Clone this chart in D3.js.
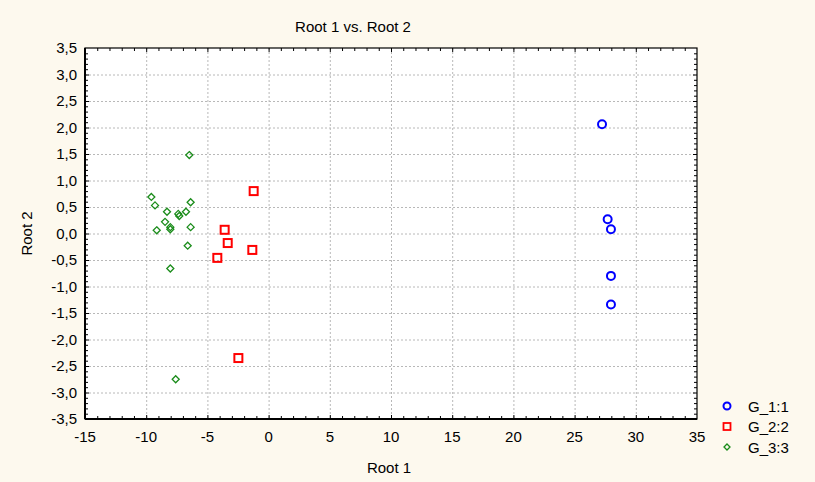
<!DOCTYPE html>
<html>
<head>
<meta charset="utf-8">
<script src="https://cdn.jsdelivr.net/npm/d3@7"></script>
<style>
  body { margin: 0; background: #fdf9ee; }
  text { font-family: "Liberation Sans", Arial, sans-serif; }
</style>
</head>
<body>
<div id="chart"></div>
<script>
// group 1 (blue circles)
var g1_x = [27.24, 27.70, 27.97, 27.97, 27.97];
var g1_y = [2.06, 0.27, 0.08, -0.80, -1.34];
// group 2 (red squares)
var g2_x = [-1.22, -3.59, -3.34, -1.33, -4.19, -2.47];
var g2_y = [0.80, 0.07, -0.18, -0.31, -0.46, -2.35];
// group 3 (green diamonds)
var g3_x = [-6.48, -9.58, -9.28, -6.37, -8.30, -7.38, -7.30, -6.75, -8.46, -8.03, -8.03, -9.14, -6.37, -6.61, -8.03, -7.59];
var g3_y = [1.48, 0.69, 0.53, 0.59, 0.41, 0.37, 0.33, 0.41, 0.22, 0.12, 0.08, 0.06, 0.12, -0.23, -0.66, -2.75];

var legendNames = ["G_1:1", "G_2:2", "G_3:3"];
var xTicks = [-15, -10, -5, 0, 5, 10, 15, 20, 25, 30, 35];
var yTicks = [3.5, 3.0, 2.5, 2.0, 1.5, 1.0, 0.5, 0.0, -0.5, -1.0, -1.5, -2.0, -2.5, -3.0, -3.5];

var width = 815, height = 482;
var margin = {top: 48, right: 118, bottom: 63, left: 85};

var svg = d3.select("#chart").append("svg")
	.attr("width", width)
	.attr("height", height);

svg.append("rect").attr("width", width).attr("height", height).attr("fill", "#fdf9ee");

var x = d3.scaleLinear().domain([-15, 35]).range([margin.left, width - margin.right]);
var y = d3.scaleLinear().domain([-3.5, 3.5]).range([height - margin.bottom, margin.top]);

var fmt = function(d){ return d3.format(".1f")(d).replace(".", ",").replace("−", "-"); };

//plot area
svg.append("rect")
	.attr("x", x(-15)).attr("y", y(3.5))
	.attr("width", x(35) - x(-15)).attr("height", y(-3.5) - y(3.5))
	.attr("fill", "#ffffff");

//grid
svg.append("g").selectAll("line").data(xTicks.slice(1, -1)).enter().append("line")
	.attr("x1", function(d){ return x(d) + 0.5; }).attr("x2", function(d){ return x(d) + 0.5; })
	.attr("y1", y(3.5)).attr("y2", y(-3.5))
	.attr("stroke", "#b8b8b8").attr("stroke-dasharray", "2,2");
svg.append("g").selectAll("line").data(yTicks.slice(1, -1)).enter().append("line")
	.attr("y1", function(d){ return y(d) + 0.5; }).attr("y2", function(d){ return y(d) + 0.5; })
	.attr("x1", x(-15)).attr("x2", x(35))
	.attr("stroke", "#b8b8b8").attr("stroke-dasharray", "2,2");

//minor ticks on all four sides, pointing inward
var xMinor = d3.range(-14, 35, 1);
var yMinor = d3.range(-34, 35, 1).map(function(d){ return d / 10; });
var ticks = svg.append("g").attr("stroke", "#000").attr("stroke-width", 1);
xMinor.forEach(function(d){
	var len = (d % 5 === 0) ? 4 : 3;
	ticks.append("line").attr("x1", x(d)+0.5).attr("x2", x(d)+0.5).attr("y1", y(-3.5)).attr("y2", y(-3.5) - len);
	ticks.append("line").attr("x1", x(d)+0.5).attr("x2", x(d)+0.5).attr("y1", y(3.5)).attr("y2", y(3.5) + len);
});
yMinor.forEach(function(d){
	var len = (Math.abs(Math.round(d*10)) % 5 === 0) ? 4 : 3;
	ticks.append("line").attr("y1", y(d)+0.5).attr("y2", y(d)+0.5).attr("x1", x(-15)).attr("x2", x(-15) + len);
	ticks.append("line").attr("y1", y(d)+0.5).attr("y2", y(d)+0.5).attr("x1", x(35)).attr("x2", x(35) - len);
});

//frame
svg.append("rect")
	.attr("x", x(-15)).attr("y", y(3.5))
	.attr("width", x(35) - x(-15)).attr("height", y(-3.5) - y(3.5))
	.attr("fill", "none").attr("stroke", "#000").attr("stroke-width", 1.2);
svg.append("line").attr("x1", x(-15)).attr("x2", x(-15)).attr("y1", y(3.5)).attr("y2", y(-3.5)).attr("stroke", "#000").attr("stroke-width", 2);
svg.append("line").attr("x1", x(-15)).attr("x2", x(35)).attr("y1", y(-3.5)).attr("y2", y(-3.5)).attr("stroke", "#000").attr("stroke-width", 2);

//tick labels
svg.append("g").selectAll("text").data(xTicks).enter().append("text")
	.attr("x", function(d){ return x(d); }).attr("y", y(-3.5) + 23)
	.attr("text-anchor", "middle").attr("font-size", "15px").attr("fill", "#000")
	.text(function(d){ return String(d); });
svg.append("g").selectAll("text").data(yTicks).enter().append("text")
	.attr("x", x(-15) - 8).attr("y", function(d){ return y(d) + 5; })
	.attr("text-anchor", "end").attr("font-size", "15px").attr("fill", "#000")
	.text(fmt);

//titles
svg.append("text").attr("x", 353).attr("y", 32).attr("text-anchor", "middle").attr("font-size", "15px").text("Root 1 vs. Root 2");
svg.append("text").attr("x", 389).attr("y", 473).attr("text-anchor", "middle").attr("font-size", "15px").text("Root 1");
svg.append("text").attr("transform", "translate(32," + ((y(3.5)+y(-3.5))/2) + ") rotate(-90)")
	.attr("text-anchor", "middle").attr("font-size", "15px").text("Root 2");

//points
var g1 = g1_x.map(function(d, i){ return [d, g1_y[i]]; });
var g2 = g2_x.map(function(d, i){ return [d, g2_y[i]]; });
var g3 = g3_x.map(function(d, i){ return [d, g3_y[i]]; });

svg.append("g").selectAll("path").data(g3).enter().append("path")
	.attr("d", function(d){ var cx = x(d[0]), cy = y(d[1]); return "M" + cx + "," + (cy-3.5) + "L" + (cx+3.5) + "," + cy + "L" + cx + "," + (cy+3.5) + "L" + (cx-3.5) + "," + cy + "Z"; })
	.attr("fill", "none").attr("stroke", "#1a8c1a").attr("stroke-width", 1.3);

svg.append("g").selectAll("rect").data(g2).enter().append("rect")
	.attr("x", function(d){ return x(d[0]) - 4; }).attr("y", function(d){ return y(d[1]) - 4; })
	.attr("width", 8).attr("height", 8)
	.attr("fill", "none").attr("stroke", "#ff0000").attr("stroke-width", 2);

svg.append("g").selectAll("circle").data(g1).enter().append("circle")
	.attr("cx", function(d){ return x(d[0]); }).attr("cy", function(d){ return y(d[1]); })
	.attr("r", 4)
	.attr("fill", "none").attr("stroke", "#0000ff").attr("stroke-width", 2);

//legend
var lx = 727, ly = 406, ls = 20.5;
svg.append("circle").attr("cx", lx).attr("cy", ly).attr("r", 3.5).attr("fill", "none").attr("stroke", "#0000ff").attr("stroke-width", 2);
svg.append("rect").attr("x", lx - 3.5).attr("y", ly + ls - 3.5).attr("width", 7).attr("height", 7).attr("fill", "none").attr("stroke", "#ff0000").attr("stroke-width", 1.8);
svg.append("path").attr("d", "M" + lx + "," + (ly+2*ls-3) + "L" + (lx+3) + "," + (ly+2*ls) + "L" + lx + "," + (ly+2*ls+3) + "L" + (lx-3) + "," + (ly+2*ls) + "Z")
	.attr("fill", "none").attr("stroke", "#1a8c1a").attr("stroke-width", 1.3);
svg.append("g").selectAll("text").data(legendNames).enter().append("text")
	.attr("x", lx + 21).attr("y", function(d, i){ return ly + i*ls + 5.5; })
	.attr("font-size", "15px").attr("fill", "#000")
	.text(function(d){ return d; });
</script>
</body>
</html>
